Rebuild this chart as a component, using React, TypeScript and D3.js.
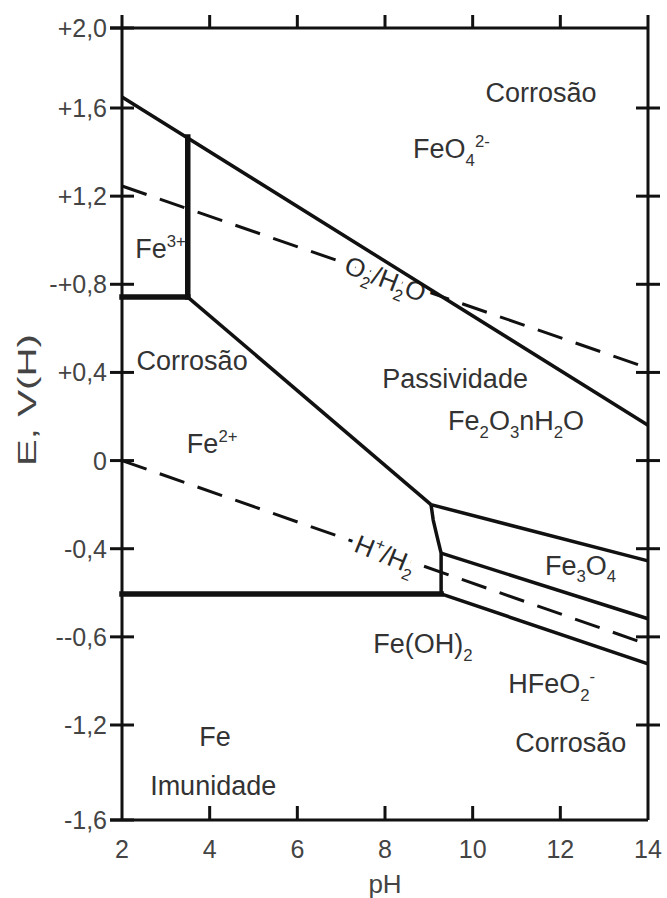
import React from 'react';
import * as d3 from 'd3';

// ---------- data ----------
const phTicks = [2, 4, 6, 8, 10, 12, 14];
const eTickValues = [2.0, 1.6, 1.2, 0.8, 0.4, 0, -0.4, -0.8, -1.2, -1.6];
const eTickLabels = ['+2,0', '+1,6', '+1,2', '-+0,8', '+0,4', '0', '-0,4', '--0,6', '-1,2', '-1,6'];

// boundary lines [pH, E]
const lineFeO4Upper: [number, number][] = [[2, 1.655], [14, 0.16]];
const lineFe3Vertical: [number, number][] = [[3.5, 1.468], [3.5, 0.742]];
const lineFe3Fe2: [number, number][] = [[2, 0.742], [3.5, 0.742]];
const lineFe2Passive: [number, number][] = [[3.5, 0.742], [9.05, -0.2]];
const lineFe2FeOH2: [number, number][] = [[9.05, -0.2], [9.1, -0.27], [9.19, -0.346], [9.28, -0.42], [9.28, -0.605]];
const lineFeFe2: [number, number][] = [[2, -0.605], [9.28, -0.605]];
const lineFe2O3Fe3O4: [number, number][] = [[9.05, -0.2], [14, -0.455]];
const lineFe3O4FeOH2: [number, number][] = [[9.28, -0.42], [14, -0.718]];
const lineFeFeOH2: [number, number][] = [[9.28, -0.605], [14, -0.923]];
const lineO2H2O: [number, number][] = [[2, 1.246], [14, 0.42]];
const lineHH2: [number, number][] = [[2, 0], [14, -0.835]];

type Part = { t: string; k?: 'sub' | 'sup' };
const regionLabels: { parts: Part[]; ph: number; e: number; anchor: string }[] = [
  { parts: [{ t: 'Corrosão' }], ph: 11.56, e: 1.63, anchor: 'middle' },
  { parts: [{ t: 'FeO' }, { t: '4', k: 'sub' }, { t: '2-', k: 'sup' }], ph: 8.64, e: 1.373, anchor: 'start' },
  { parts: [{ t: 'Fe' }, { t: '3+', k: 'sup' }], ph: 2.3, e: 0.919, anchor: 'start' },
  { parts: [{ t: 'Corrosão' }], ph: 3.6, e: 0.411, anchor: 'middle' },
  { parts: [{ t: 'Fe' }, { t: '2+', k: 'sup' }], ph: 3.48, e: 0.034, anchor: 'start' },
  { parts: [{ t: 'Passividade' }], ph: 9.6, e: 0.329, anchor: 'middle' },
  { parts: [{ t: 'Fe' }, { t: '2', k: 'sub' }, { t: 'O' }, { t: '3', k: 'sub' }, { t: 'nH' }, { t: '2', k: 'sub' }, { t: 'O' }], ph: 10.99, e: 0.139, anchor: 'middle' },
  { parts: [{ t: 'Fe' }, { t: '3', k: 'sub' }, { t: 'O' }, { t: '4', k: 'sub' }], ph: 11.65, e: -0.519, anchor: 'start' },
  { parts: [{ t: 'Fe(OH)' }, { t: '2', k: 'sub' }], ph: 7.73, e: -0.873, anchor: 'start' },
  { parts: [{ t: 'HFeO' }, { t: '2', k: 'sub' }, { t: '-', k: 'sup' }], ph: 10.81, e: -1.055, anchor: 'start' },
  { parts: [{ t: 'Corrosão' }], ph: 12.24, e: -1.313, anchor: 'middle' },
  { parts: [{ t: 'Fe' }], ph: 4.12, e: -1.29, anchor: 'middle' },
  { parts: [{ t: 'Imunidade' }], ph: 4.08, e: -1.495, anchor: 'middle' },
];

const lineLabels: { parts: Part[]; ph: number; e: number; angle: number }[] = [
  { parts: [{ t: 'O' }, { t: '2', k: 'sub' }, { t: '/H' }, { t: '2', k: 'sub' }, { t: 'O' }], ph: 8.0, e: 0.82, angle: 21 },
  { parts: [{ t: 'H' }, { t: '+', k: 'sup' }, { t: '/H' }, { t: '2', k: 'sub' }], ph: 8.0, e: -0.43, angle: 22 },
];

// ---------- layout ----------
const W = 667;
const H = 898;
const FONT = '"Liberation Sans", Arial, Helvetica, sans-serif';

const x = d3.scaleLinear().domain([2, 14]).range([122, 648]);
const y = d3.scaleLinear().domain([2.0, 1.6, -1.2, -1.6]).range([28, 108, 725, 820]);
const line = d3.line<[number, number]>().x((d) => x(d[0])).y((d) => y(d[1]));

function Formula({ parts, fs, ...rest }: { parts: Part[]; fs: number; [k: string]: any }) {
  let cur = 0;
  return (
    <text fontSize={fs} {...rest}>
      {parts.map((p, i) => {
        const target = p.k === 'sub' ? fs * 0.28 : p.k === 'sup' ? -fs * 0.42 : 0;
        const dy = target - cur;
        cur = target;
        return (
          <tspan key={i} dy={dy} fontSize={p.k ? fs * 0.62 : fs}>
            {p.t}
          </tspan>
        );
      })}
    </text>
  );
}

export default function App() {
  const x0 = x(2);
  const x1 = x(14);
  const yTop = y(2.0);
  const yBot = y(-1.6);
  const solid = [lineFeO4Upper, lineFe2Passive, lineFe2FeOH2, lineFe2O3Fe3O4, lineFe3O4FeOH2, lineFeFeOH2];
  const thick = [lineFe3Vertical, lineFe3Fe2, lineFeFe2];
  return (
    <svg
      width={W}
      height={H}
      viewBox={`0 0 ${W} ${H}`}
      style={{ position: 'absolute', left: 0, top: 0, background: '#fff', fontFamily: FONT }}
    >
      <rect x={0} y={0} width={W} height={H} fill="#fff" />
      {/* dashed water lines */}
      {[lineO2H2O, lineHH2].map((d, i) => (
        <path key={i} d={line(d) || ''} fill="none" stroke="#111" strokeWidth={3} strokeDasharray="26 14" />
      ))}
      {/* line labels: halo first, then text */}
      {lineLabels.map((l, i) => {
        const cx = x(l.ph);
        const cy = y(l.e);
        return (
          <g key={i} transform={`rotate(${l.angle},${cx},${cy})`}>
            <Formula
              parts={l.parts}
              fs={26}
              x={cx}
              y={cy + 8}
              textAnchor="middle"
              fill="#fff"
              stroke="#fff"
              strokeWidth={12}
              strokeLinejoin="round"
            />
            <Formula parts={l.parts} fs={26} x={cx} y={cy + 8} textAnchor="middle" fill="#2a2a2a" />
          </g>
        );
      })}
      {/* solid boundaries */}
      {solid.map((d, i) => (
        <path key={i} d={line(d) || ''} fill="none" stroke="#111" strokeWidth={3.5} strokeLinejoin="round" />
      ))}
      {thick.map((d, i) => (
        <path key={i} d={line(d) || ''} fill="none" stroke="#111" strokeWidth={5.5} strokeLinecap="square" />
      ))}
      {/* frame */}
      <g stroke="#111" strokeWidth={3} fill="none">
        <line x1={x0} x2={x0} y1={yTop - 13} y2={yBot} />
        <line x1={x1} x2={x1} y1={yTop - 13} y2={yBot} />
        <line x1={x0 - 12} x2={x1} y1={yTop} y2={yTop} />
        <line x1={x0 - 12} x2={x1} y1={yBot} y2={yBot} />
        {eTickValues.map((v, i) => (
          <line key={'l' + i} x1={x0 - 12} x2={x0 + 12} y1={y(v)} y2={y(v)} />
        ))}
        {eTickValues.slice(1, -1).map((v, i) => (
          <line key={'r' + i} x1={x1 - 12} x2={x1 + 12} y1={y(v)} y2={y(v)} />
        ))}
        {phTicks.slice(1, -1).map((p, i) => (
          <g key={'t' + i}>
            <line x1={x(p)} x2={x(p)} y1={yTop - 13} y2={yTop} />
            <line x1={x(p)} x2={x(p)} y1={yBot - 14} y2={yBot} />
          </g>
        ))}
      </g>
      {/* tick labels */}
      <g fill="#444" fontSize={25}>
        {eTickValues.map((v, i) => (
          <text key={i} x={107} y={y(v) + 9} textAnchor="end">
            {eTickLabels[i]}
          </text>
        ))}
        {phTicks.map((p, i) => (
          <text key={i} x={x(p)} y={858} textAnchor="middle">
            {p}
          </text>
        ))}
        <text x={(x0 + x1) / 2} y={893} textAnchor="middle" fontSize={26}>pH</text>
        <text
          transform={`translate(36,${400}) rotate(-90)`}
          textAnchor="middle"
          fontSize={25}
          textLength={132}
          lengthAdjust="spacingAndGlyphs"
        >
          E, V(H)
        </text>
      </g>
      {/* region labels */}
      {regionLabels.map((l, i) => (
        <Formula key={i} parts={l.parts} fs={27} x={x(l.ph)} y={y(l.e)} textAnchor={l.anchor} fill="#333" />
      ))}
    </svg>
  );
}
